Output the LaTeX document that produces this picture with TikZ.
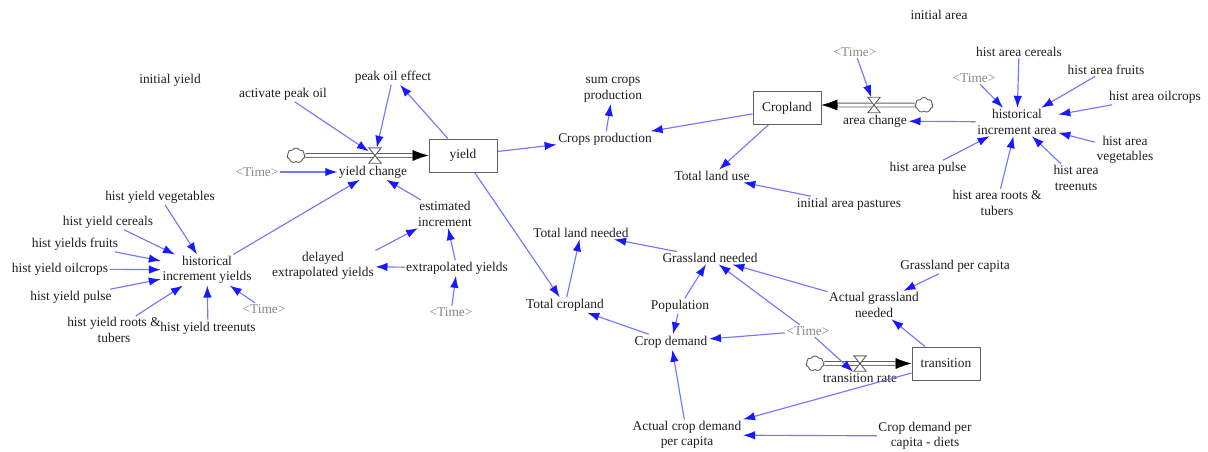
\documentclass[tikz,border=0pt]{standalone}
\usepackage{fontspec}
\setmainfont{Liberation Serif}
\usetikzlibrary{arrows.meta,shapes.symbols,calc}
\definecolor{linkblue}{RGB}{118,118,255}
\definecolor{headblue}{RGB}{25,25,255}
\definecolor{shadowgray}{RGB}{135,135,135}
\definecolor{ink}{RGB}{30,30,30}
\definecolor{pipegray}{RGB}{95,95,95}
\begin{document}
\begin{tikzpicture}[x=1pt,y=-1pt,
  every node/.style={font=\fontsize{13.4}{15.5}\selectfont, text=ink, inner sep=1.5pt, align=center},
  shadowvar/.style={text=shadowgray},
  stock/.style={draw=pipegray, line width=0.9pt, fill=white, minimum width=68pt, minimum height=33pt, inner sep=0pt},
  valvebox/.style={minimum width=12pt, minimum height=15pt, inner sep=0pt},
  valveline/.style={draw=pipegray, line width=0.9pt, fill=white, line join=miter},
  cloudsrc/.style={cloud, cloud puffs=7, cloud puff arc=120, cloud ignores aspect, draw=pipegray, line width=0.9pt, minimum width=18pt, minimum height=15pt, inner sep=0pt, fill=white},
  link/.style={draw=linkblue, line width=1.15pt, -{Latex[length=12pt,width=8.5pt,color=headblue]}},
  pipe/.style={draw=pipegray, double=white, double distance=3pt, line width=0.9pt},
  flowtip/.style={draw=black, line width=0.5pt, -{Latex[length=16pt,width=11pt]}}
]
\useasboundingbox (0,0) rectangle (1208,452);

% ---------- stocks, flows ----------
\node[stock] (yield) at (463,155.5) {yield};
\node[stock] (crop) at (787,108) {Cropland};
\node[stock] (trans) at (946,363.5) {transition};

\node[cloudsrc] (ycloud) at (296,155.5) {};
\node[cloudsrc] (acloud) at (924,105) {};
\node[cloudsrc] (tcloud) at (815,363.5) {};

\node[valvebox] (yv) at (375,155.5) {};
\node[valvebox] (av) at (874,105) {};
\node[valvebox] (trv) at (860,363.5) {};

\coordinate (yhead) at ($(yield.west)+(-16,0)$);
\coordinate (ahead) at ($(crop.east)+(16,-3)$);
\coordinate (thead) at ($(trans.west)+(-16,0)$);

\draw[pipe] (ycloud.east) -- (yhead);
\draw[flowtip] (yhead) -- (yield.west);
\draw[pipe] (acloud.west) -- (ahead);
\draw[flowtip] (ahead) -- (ahead -| crop.east);
\draw[pipe] (tcloud.east) -- (thead);
\draw[flowtip] (thead) -- (trans.west);

\draw[valveline] (yv.north west) -- (yv.north east) -- (yv.south west) -- (yv.south east) -- cycle;
\draw[valveline] (av.north west) -- (av.north east) -- (av.south west) -- (av.south east) -- cycle;
\draw[valveline] (trv.north west) -- (trv.north east) -- (trv.south west) -- (trv.south east) -- cycle;

% ---------- variables ----------
\node (iy) at (170,80) {initial yield};
\node (act) at (283,94) {activate peak oil};
\node (poe) at (393,77) {peak oil effect};
\node (ycl) at (373,172) {yield change};
\node[shadowvar] (t2) at (257,172) {\textless Time\textgreater};
\node (est) at (445,214) {estimated\\increment};
\node (dey) at (323,266) {delayed\\extrapolated yields};
\node (exy) at (457,268) {extrapolated yields};
\node[shadowvar] (t3) at (451,312) {\textless Time\textgreater};
\node (hiy) at (207,270) {historical\\increment yields};
\node (hyveg) at (160,197) {hist yield vegetables};
\node (hycer) at (108,222) {hist yield cereals};
\node (hyfru) at (75,244) {hist yields fruits};
\node (hyoil) at (60,269) {hist yield oilcrops};
\node (hypul) at (71,297) {hist yield pulse};
\node (hyroot) at (114,330) {hist yield roots \&\\tubers};
\node (hytree) at (208,328) {hist yield treenuts};
\node[shadowvar] (t1) at (264,309) {\textless Time\textgreater};

\node (cprod) at (605,139) {Crops production};
\node (sumcp) at (613,90) {sum crops\\production};
\node (tlu) at (712,176) {Total land use};
\node (iap) at (849,204) {initial area pastures};
\node (ia) at (939,15) {initial area};
\node (acl) at (875,121) {area change};
\node[shadowvar] (t4) at (855,52) {\textless Time\textgreater};
\node (hia) at (1017,122) {historical\\increment area};
\node[shadowvar] (t5) at (974,78) {\textless Time\textgreater};
\node (hacer) at (1019,52) {hist area cereals};
\node (hafru) at (1106,70) {hist area fruits};
\node (haoil) at (1155,97) {hist area oilcrops};
\node (haveg) at (1125,150) {hist area\\vegetables};
\node (hatree) at (1076,178) {hist area\\treenuts};
\node (haroot) at (997,203) {hist area roots \&\\tubers};
\node (hapul) at (928,168) {hist area pulse};

\node (tln) at (581,233) {Total land needed};
\node (gn) at (710,258) {Grassland needed};
\node (tcl) at (565,305) {Total cropland};
\node (pop) at (680,306) {Population};
\node (cd) at (671,342) {Crop demand};
\node (acd) at (687,435) {Actual crop demand\\per capita};
\node[shadowvar] (t6) at (808,331) {\textless Time\textgreater};
\node (agn) at (874,305) {Actual grassland\\needed};
\node (gpc) at (955,266) {Grassland per capita};
\node (trl) at (860,378) {transition rate};
\node (cdd) at (925,436) {Crop demand per\\capita - diets};

% ---------- connectors ----------
\draw[link] (hyveg) -- (hiy);
\draw[link] (hycer) -- (hiy);
\draw[link] (hyfru) -- (hiy);
\draw[link] (hyoil) -- (hiy);
\draw[link] (hypul) -- (hiy);
\draw[link] (hyroot) -- (hiy);
\draw[link] (hytree) -- (hiy);
\draw[link] (t1) -- (hiy);
\draw[link] (hiy) -- (ycl);
\draw[link] (act) -- (yv);
\draw[link] (poe) -- (yv);
\draw[link] (yield) -- (poe);
\draw[link] (t2) -- (ycl);
\draw[link] (est) -- (ycl);
\draw[link] (dey.north east) -- (est);
\draw[link] (exy) -- (est);
\draw[link] (exy) -- (dey);
\draw[link] (t3) -- (exy);

\draw[link] (yield) -- (cprod);
\draw[link] (cprod) -- (sumcp);
\draw[link] (crop) -- (cprod);
\draw[link] (crop) -- (tlu);
\draw[link] (iap) -- (tlu);
\draw[link] (t4) -- (av);
\draw[link] (hia) -- (acl);
\draw[link] (t5) -- (hia);
\draw[link] (hacer) -- (hia);
\draw[link] (hafru) -- (hia);
\draw[link] (haoil) -- (hia);
\draw[link] (haveg) -- (hia);
\draw[link] (hatree) -- (hia);
\draw[link] (haroot) -- (hia);
\draw[link] (hapul) -- (hia);

\draw[link] (yield) -- (tcl);
\draw[link] (tcl) -- (tln);
\draw[link] (gn) -- (tln);
\draw[link] (pop) -- (gn);
\draw[link] (pop) -- (cd);
\draw[link] (cd) -- (tcl);
\draw[link] (acd) -- (cd);
\draw[link] (t6) -- (cd);
\draw[link] (t6) -- (gn);
\draw[link] (agn) -- (gn);
\draw[link] (gpc) -- (agn);
\draw[link] (trans) -- (agn);
\draw[link] (t6) -- (trl);
\draw[link] (trans) -- (acd);
\draw[link] (cdd) -- (acd);
\end{tikzpicture}
\end{document}
